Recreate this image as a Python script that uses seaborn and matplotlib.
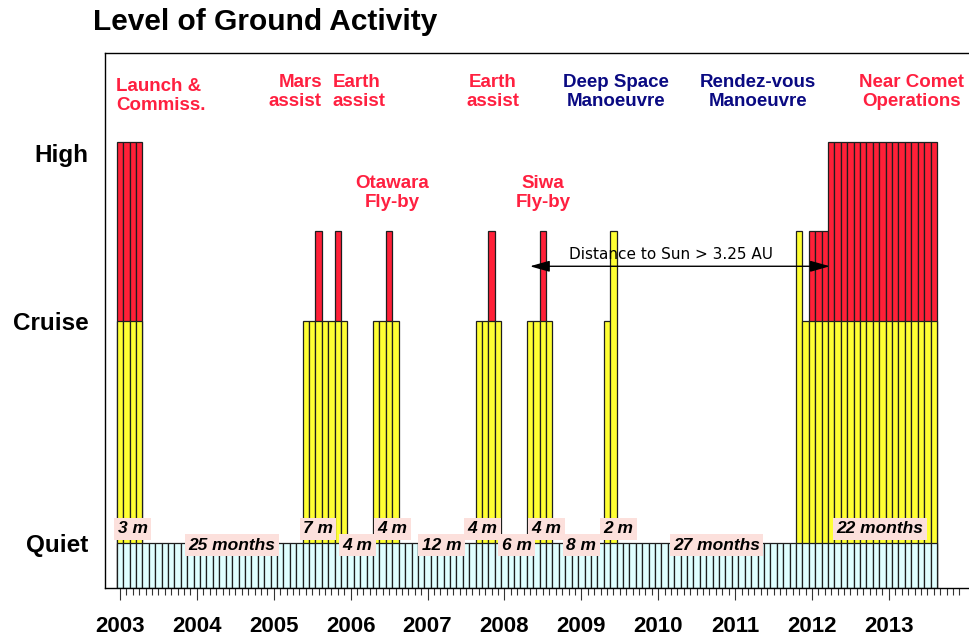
import matplotlib

matplotlib.use("Agg")
import matplotlib.pyplot as plt
import numpy as np
import pandas as pd
import seaborn as sns

# --- data ---
start_year = 2003
# activity per month as runs: Q quiet, C cruise, M cruise + short high peak,
# Y cruise peak (no high), H cruise + high
activity_runs = [
    ("H", 4), ("Q", 25),
    ("C", 2), ("M", 1), ("C", 2), ("M", 1), ("C", 1), ("Q", 4),
    ("C", 2), ("M", 1), ("C", 1), ("Q", 12),
    ("C", 2), ("M", 1), ("C", 1), ("Q", 4),
    ("C", 2), ("M", 1), ("C", 1), ("Q", 8),
    ("C", 1), ("Y", 1), ("Q", 28),
    ("Y", 1), ("C", 1), ("M", 3), ("H", 17),
]
level_quiet = 1
level_cruise = 6
level_peak = 8
level_high = 10

level_names = ["Quiet", "Cruise", "High"]
year_labels = [str(y) for y in range(2003, 2014)]

gap_labels = ["3 m", "25 months", "7 m", "4 m", "4 m", "12 m", "4 m",
              "6 m", "4 m", "8 m", "2 m", "27 months", "22 months"]

event_texts = ["Launch &\nCommiss.", "Mars\nassist", "Earth\nassist",
               "Earth\nassist", "Deep Space\nManoeuvre",
               "Rendez-vous\nManoeuvre", "Near Comet\nOperations",
               "Otawara\nFly-by", "Siwa\nFly-by"]
event_is_manoeuvre = [False, False, False, False, True, True, False, False, False]

distance_text = "Distance to Sun > 3.25 AU"

# --- build monthly table ---
codes = []
for code, n in activity_runs:
    codes += [code] * n
months = np.arange(len(codes))
df = pd.DataFrame({"code": codes})
df["year"] = start_year + months / 12
df["quiet"] = level_quiet
df["cruise"] = df["code"].map({"Q": 0, "C": level_cruise, "M": level_cruise,
                               "H": level_cruise, "Y": level_peak})
df["high"] = df["code"].map({"Q": 0, "C": 0, "Y": 0,
                             "M": level_peak, "H": level_high})

# --- styling ---
sns.set_style("white")
plt.rcParams["font.family"] = ["Liberation Sans", "DejaVu Sans"]
plt.rcParams["text.color"] = "black"
plt.rcParams["xtick.color"] = "black"
plt.rcParams["ytick.color"] = "black"

red = "#ff2038"
yellow = "#ffff33"
cyan = "#e0ffff"
edge = "#1e1e1e"
text_red = "#ff2040"
text_navy = "#0a0a82"

fig = plt.figure(figsize=(9.7, 6.38), dpi=100)
ax = fig.add_axes([105 / 970, 1 - 588 / 638, 1 - 105 / 970, 535 / 638])

bar_kw = dict(native_scale=True, width=1.0, saturation=1, errorbar=None,
              edgecolor=edge, linewidth=0.9, ax=ax)
# back to front so the layers look stacked
red_rows = df[df["high"] > 0]
sns.barplot(x=red_rows["year"], y=red_rows["high"], color=red, **bar_kw)
yel_rows = df[df["cruise"] > 0]
sns.barplot(x=yel_rows["year"], y=yel_rows["cruise"], color=yellow, **bar_kw)
sns.barplot(x=df["year"], y=df["quiet"], color=cyan, **bar_kw)

ax.set_xlim(2002.805, 2014.055)
ax.set_ylim(0, 12)
ax.set_xlabel("")
ax.set_ylabel("")

# x axis: years with monthly minor ticks
ax.set_xticks(np.arange(2003, 2014))
ax.set_xticklabels(year_labels, fontsize=16, fontweight="bold", color="black")
minor = [start_year + k / 12 for k in range(132) if k % 12]
ax.set_xticks(minor, minor=True)
ax.tick_params(axis="x", which="major", direction="out", length=8.5,
               width=0.8, color="#333333", pad=12, bottom=True)
ax.tick_params(axis="x", which="minor", direction="out", length=5,
               width=0.8, color="#333333", bottom=True)

# y axis: activity levels
ax.set_yticks([level_quiet, level_cruise, 9.75])
ax.set_yticklabels(level_names, fontsize=17.5, fontweight="bold", color="black")
ax.tick_params(axis="y", which="major", length=0, pad=12, left=True)
ax.set_yticks([level_cruise], minor=True)
ax.tick_params(axis="y", which="minor", direction="in", length=4,
               width=0.8, color="#555555", left=True)

for side in ["top", "left", "bottom"]:
    ax.spines[side].set_visible(True)
    ax.spines[side].set_color("black")
    ax.spines[side].set_linewidth(1)
ax.spines["right"].set_visible(False)

# duration labels along the quiet band
label_month = [2.0, 17.5, 30.9, 37.0, 42.5, 50.2, 56.6, 61.9, 66.6, 72.0,
               77.8, 93.1, 118.6]
for i, (txt, m) in enumerate(zip(gap_labels, label_month)):
    yy = 1.33 if i % 2 == 0 else 0.96
    ax.text(start_year + m / 12, yy, txt, ha="center", va="center",
            fontsize=12.5, fontweight="bold", fontstyle="italic", zorder=6,
            color="black",
            bbox=dict(boxstyle="square,pad=0.2", fc="#fce0dc", ec="none"))

# event annotations (x in px of the reference -> years)
def px_to_year(px):
    return start_year + (px - 120) / 76.9


def py_to_level(py):
    return (588.7 - py) / 44.58


event_pos = [(116, 97, "left"), (322, 93, "right"), (333, 93, "left"),
             (493, 93, "center"), (616, 93, "center"), (758, 93, "center"),
             (912, 93, "center"), (392, 194, "center"), (543, 194, "center")]
for txt, navy, (px, py, ha) in zip(event_texts, event_is_manoeuvre, event_pos):
    ax.text(px_to_year(px), py_to_level(py), txt, ha=ha, va="center",
            multialignment=ha, fontsize=13.5, fontweight="bold",
            color=text_navy if navy else text_red, linespacing=1.15,
            zorder=6, clip_on=False)

# distance arrow
ax.annotate("", xy=(px_to_year(530), py_to_level(267)),
            xytext=(px_to_year(830), py_to_level(267)),
            arrowprops=dict(arrowstyle="<|-|>,head_length=0.6,head_width=0.17",
                            color="black", lw=1, mutation_scale=20,
                            shrinkA=0, shrinkB=0),
            zorder=7)
ax.text(px_to_year(671), py_to_level(255), distance_text, ha="center",
        va="center", fontsize=11, family="DejaVu Sans", color="black",
        zorder=7)

fig.text(93 / 970, 1 - 22 / 638, "Level of Ground Activity", ha="left",
         va="center", fontsize=21.5, fontweight="bold", color="black")

plt.savefig("out.png", dpi=100)
